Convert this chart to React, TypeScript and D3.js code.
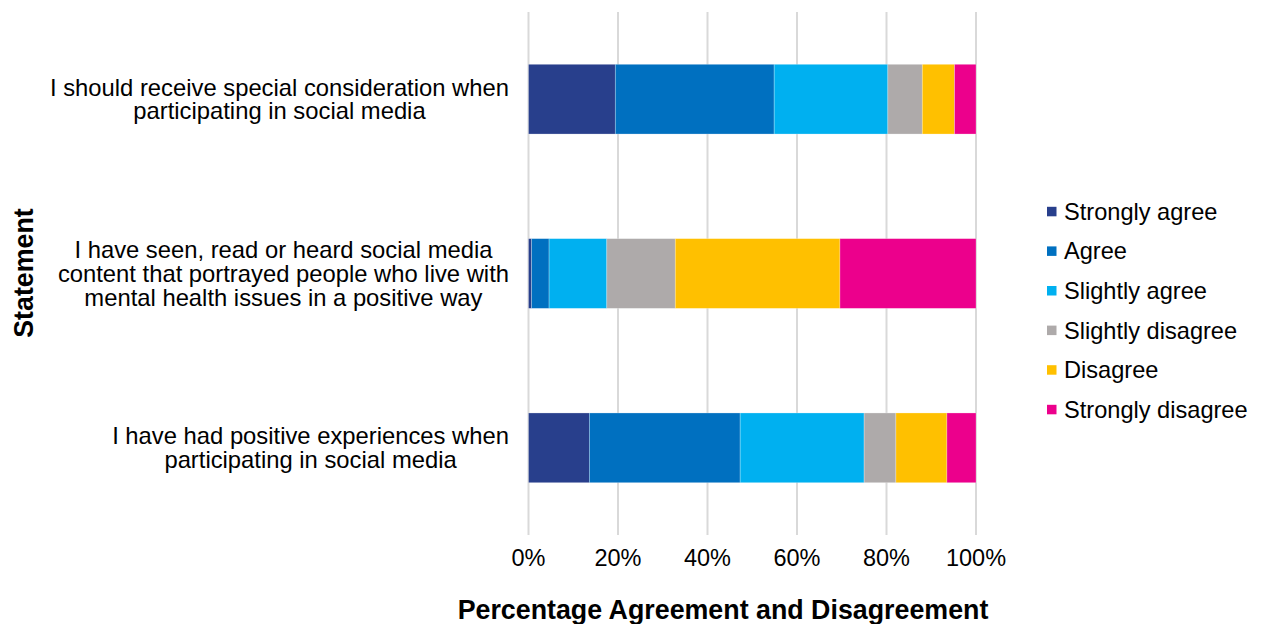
import React from "react";
import * as d3 from "d3";

const statements = [
  ["I should receive special consideration when", "participating in social media"],
  ["I have seen, read or heard social media", "content that portrayed people who live with", "mental health issues in a positive way"],
  ["I have had positive experiences when", "participating in social media"],
];
const seriesNames = ["Strongly agree", "Agree", "Slightly agree", "Slightly disagree", "Disagree", "Strongly disagree"];
const stronglyAgree = [19.4, 0.7, 13.6];
const agree = [35.5, 3.9, 33.7];
const slightlyAgree = [25.4, 12.9, 27.7];
const slightlyDisagree = [7.7, 15.3, 7.1];
const disagree = [7.2, 36.8, 11.4];
const stronglyDisagree = [4.8, 30.4, 6.5];
const colors = ["#283f8c", "#0070c0", "#00b0f0", "#aeaaaa", "#ffc000", "#ec008c"];
const ticks = [0, 20, 40, 60, 80, 100];

const FONT = "'Liberation Sans', Arial, Helvetica, sans-serif";

function measure(text: string, size: number, weight = "normal") {
  const c = document.createElement("canvas").getContext("2d")!;
  c.font = `${weight} ${size}px ${FONT}`;
  return c.measureText(text).width;
}

export default function App() {
  const W = 1265, H = 624;
  const left = 528.5, right = 976, top = 12, bottom = 535;
  const x = d3.scaleLinear().domain([0, 100]).range([left, right]);
  const y = d3.scaleBand<number>().domain([0, 1, 2]).range([top, bottom]).paddingInner(0.6).paddingOuter(0.3);
  const seriesVals = [stronglyAgree, agree, slightlyAgree, slightlyDisagree, disagree, stronglyDisagree];
  const rows = statements.map((_, i) => {
    const o: any = { i };
    seriesNames.forEach((s, k) => (o[s] = seriesVals[k][i]));
    return o;
  });
  const stacked = d3.stack<any>().keys(seriesNames)(rows);
  const fs = 23.8;
  const lineH = 23.8;

  return (
    <svg width={W} height={H} style={{ position: "absolute", left: 0, top: 0 }} fontFamily={FONT}>
      <rect width={W} height={H} fill="#fff" />
      {ticks.map((t) => (
        <line key={t} x1={x(t)} x2={x(t)} y1={top} y2={bottom} stroke="#d9d9d9" strokeWidth={2} />
      ))}
      {stacked.map((s, k) => (
        <g key={s.key} fill={colors[k]}>
          {s.map((d, i) => (
            <rect key={i} x={x(d[0])} y={y(i)!} width={x(d[1]) - x(d[0])} height={y.bandwidth()} stroke="#ffffff" strokeOpacity={0.35} strokeWidth={0.75} />
          ))}
        </g>
      ))}
      {statements.map((lines, i) => {
        const maxW = Math.max(...lines.map((l) => measure(l, fs)));
        const cx = 509 - maxW / 2;
        const cy = y(i)! + y.bandwidth() / 2;
        const y0 = cy - ((lines.length - 1) * lineH) / 2;
        return (
          <text key={i} fontSize={fs} textAnchor="middle" fill="#000">
            {lines.map((l, j) => (
              <tspan key={j} x={cx} y={y0 + j * lineH} dy="0.35em">{l}</tspan>
            ))}
          </text>
        );
      })}
      {ticks.map((t) => (
        <text key={t} x={x(t)} y={558} dy="0.35em" fontSize={23.5} textAnchor="middle" fill="#000">{t}%</text>
      ))}
      <text x={723} y={609.5} dy="0.35em" fontSize={26.8} fontWeight="bold" textAnchor="middle" fill="#000">Percentage Agreement and Disagreement</text>
      <text transform={`translate(24,273) rotate(-90)`} dy="0.35em" fontSize={26.8} fontWeight="bold" textAnchor="middle" fill="#000">Statement</text>
      {seriesNames.map((s, k) => (
        <g key={s} transform={`translate(1047,${211.5 + k * 39.6})`}>
          <rect x={0} y={-4.7} width={9.5} height={9.5} fill={colors[k]} />
          <text x={17} dy="0.35em" fontSize={23.6} fill="#000">{s}</text>
        </g>
      ))}
    </svg>
  );
}
